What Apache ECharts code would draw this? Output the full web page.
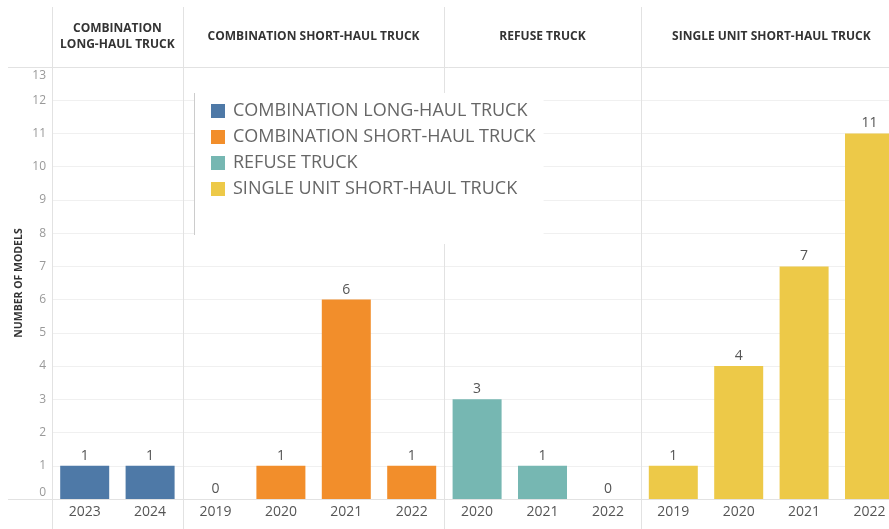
<!DOCTYPE html>
<html>
<head>
<meta charset="utf-8">
<style>
  body { margin: 0; padding: 0; background: #fff; }
  #main { width: 889px; height: 529px; }
</style>
</head>
<body>
<div id="main"></div>
<script src="https://cdn.jsdelivr.net/npm/echarts@6/dist/echarts.min.js"></script>
<script>
// panel (truck type) names and colours
var truckTypes = ['COMBINATION LONG-HAUL TRUCK', 'COMBINATION SHORT-HAUL TRUCK', 'REFUSE TRUCK', 'SINGLE UNIT SHORT-HAUL TRUCK'];
var typeColors = ['#4e79a7', '#f28e2b', '#76b7b2', '#edc948'];

// years and model counts per panel
var longHaulYears = ['2023', '2024'];
var longHaulModels = [1, 1];
var shortHaulYears = ['2019', '2020', '2021', '2022'];
var shortHaulModels = [0, 1, 6, 1];
var refuseYears = ['2020', '2021', '2022'];
var refuseModels = [3, 1, 0];
var singleUnitYears = ['2019', '2020', '2021', '2022'];
var singleUnitModels = [1, 4, 7, 11];

var yMin = 0, yMax = 13, yStep = 1;

var panelYears = [longHaulYears, shortHaulYears, refuseYears, singleUnitYears];
var panelModels = [longHaulModels, shortHaulModels, refuseModels, singleUnitModels];

var FONT = 'Open Sans';
var W = 889, H = 529;
var slot = 65.4;
var plotLeft = 52, plotTop = 67, plotBottom = 499;

var grids = [], xAxes = [], yAxes = [], series = [];
var lefts = [];
var x = plotLeft;
panelYears.forEach(function (years, i) {
    lefts.push(x);
    // last panel runs past the right edge, like the cropped original
    grids.push({
        left: x, top: plotTop, width: years.length * slot, bottom: H - plotBottom,
        containLabel: false, outerBoundsMode: 'none'
    });
    x += years.length * slot;
    xAxes.push({
        type: 'category', gridIndex: i, data: years,
        axisLine: { show: false }, axisTick: { show: false },
        axisLabel: { color: '#555', fontSize: 14, fontFamily: FONT, margin: 6 }
    });
    yAxes.push({
        type: 'value', gridIndex: i, min: yMin, max: yMax, interval: yStep,
        name: i === 0 ? 'NUMBER OF MODELS' : '',
        nameLocation: 'middle', nameGap: 27,
        nameTextStyle: { color: '#333', fontSize: 10.5, fontWeight: 'bold', fontFamily: FONT },
        axisLine: { show: false }, axisTick: { show: false },
        splitLine: { lineStyle: { color: '#f0f0f0' } },
        axisLabel: {
            show: i === 0, color: '#999', fontSize: 12, fontFamily: FONT, margin: 6,
            formatter: function (v) {
                if (v === yMin) return '{lo|' + v + '}';
                if (v === yMax) return '{hi|' + v + '}';
                return v;
            },
            rich: {
                lo: { color: '#999', fontSize: 12, fontFamily: FONT, padding: [0, 0, 12, 0] },
                hi: { color: '#999', fontSize: 12, fontFamily: FONT, padding: [18, 0, 0, 0] }
            }
        }
    });
    series.push({
        type: 'bar', name: truckTypes[i], xAxisIndex: i, yAxisIndex: i,
        data: panelModels[i], barWidth: 49,
        itemStyle: { color: typeColors[i] },
        label: { show: true, position: 'top', distance: 3, color: '#555', fontSize: 14, fontFamily: FONT }
    });
});
lefts.push(x);

var lineStyle = { stroke: '#e2e2e2', lineWidth: 1 };
var graphics = [];
// header bottom and x baseline
[plotTop, plotBottom].forEach(function (y) {
    graphics.push({ type: 'line', z: 1, shape: { x1: 8, y1: y + 0.5, x2: W, y2: y + 0.5 }, style: lineStyle });
});
// panel dividers
lefts.forEach(function (lx) {
    graphics.push({ type: 'line', z: 1, shape: { x1: Math.round(lx) + 0.5, y1: 7, x2: Math.round(lx) + 0.5, y2: H }, style: lineStyle });
});
// panel headers
truckTypes.forEach(function (name, i) {
    var cx = (lefts[i] + lefts[i + 1]) / 2;
    var txt = i === 0 ? 'COMBINATION\nLONG-HAUL TRUCK' : name;
    graphics.push({
        type: 'text', z: 3, x: cx, y: 37,
        style: { text: txt, fill: '#333', font: 'bold 12px "' + FONT + '"', align: 'center', verticalAlign: 'middle', lineHeight: 16 }
    });
});
// legend left border
graphics.push({ type: 'line', z: 10, shape: { x1: 194.5, y1: 93, x2: 194.5, y2: 235 }, style: { stroke: '#ccc', lineWidth: 1 } });

var option = {
    animation: false,
    textStyle: { fontFamily: FONT },
    grid: grids,
    xAxis: xAxes,
    yAxis: yAxes,
    series: series,
    legend: {
        data: truckTypes, orient: 'vertical', left: 194, top: 93, z: 8,
        padding: [8, 8, 45, 17], itemGap: 6, itemWidth: 14, itemHeight: 14,
        icon: 'rect', backgroundColor: '#fff', selectedMode: false,
        textStyle: { color: '#666', fontSize: 18, fontFamily: FONT, lineHeight: 20, padding: [0, 0, 0, 3] }
    },
    graphic: graphics
};

var chart = echarts.init(document.getElementById('main'));
chart.setOption(option);
</script>
</body>
</html>
